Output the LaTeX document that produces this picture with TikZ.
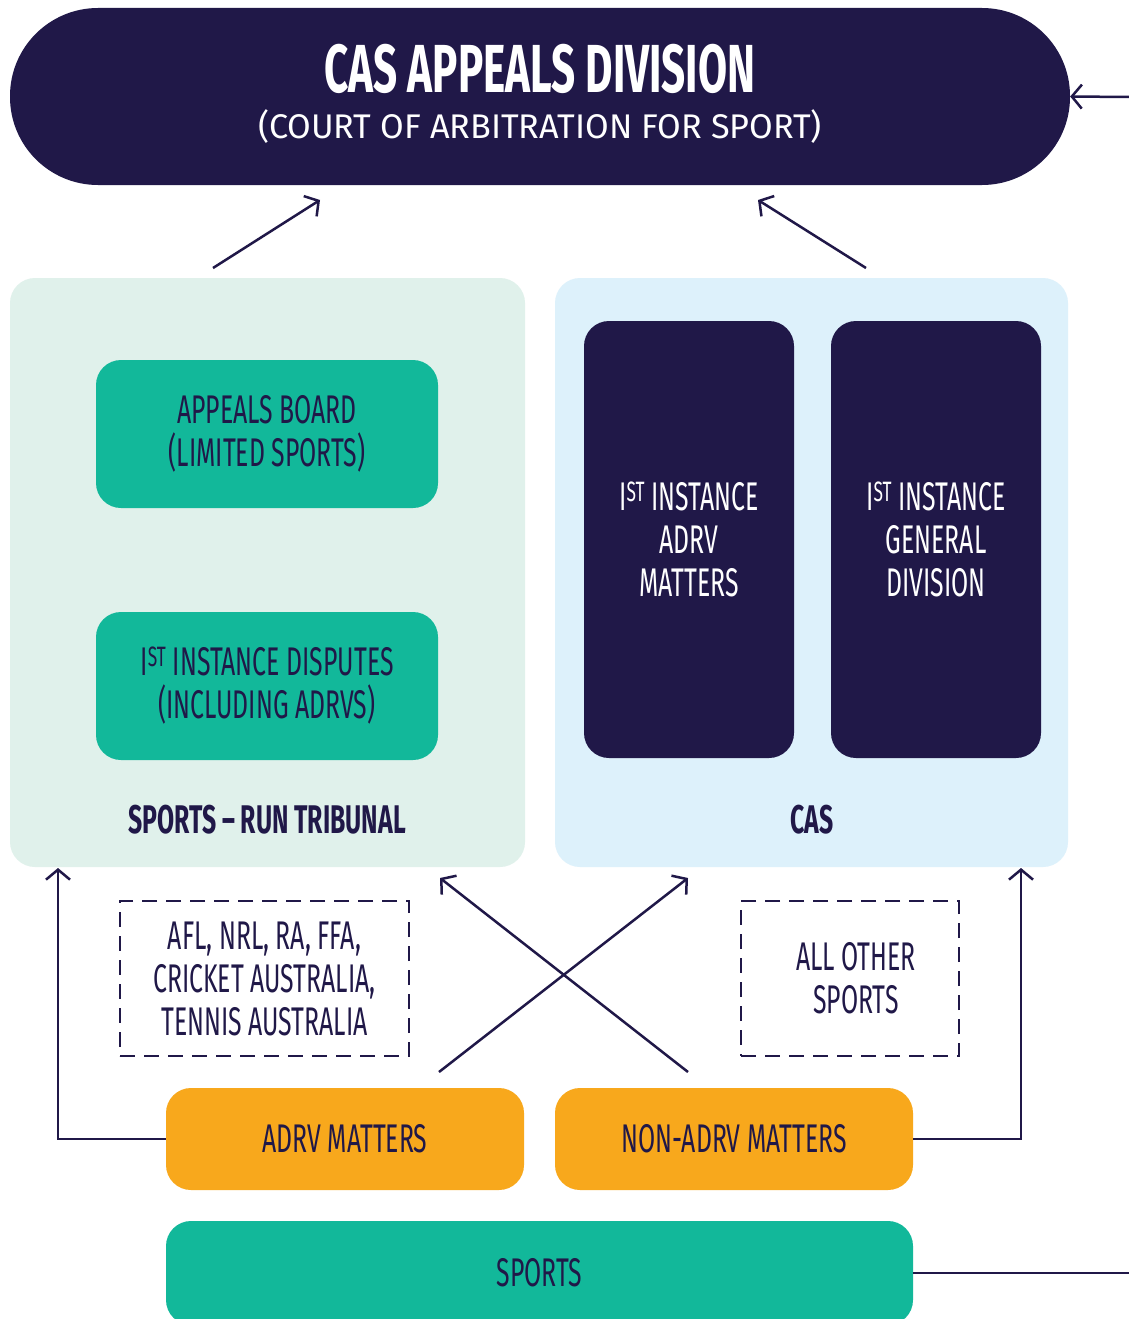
\documentclass[tikz,border=0pt]{standalone}
\usepackage{fontspec}
\setmainfont{Fira Sans}
\newfontfamily\condfont[FakeStretch=0.62,Ligatures=TeX]{Fira Sans}
\usetikzlibrary{arrows.meta}
\definecolor{navy}{HTML}{201848}
\definecolor{teal}{HTML}{12B89A}
\definecolor{orng}{HTML}{F8A81C}
\definecolor{mint}{HTML}{E0F1EB}
\definecolor{sky}{HTML}{DDF1FB}
\tikzset{
  body/.style={font={\condfont\fontsize{40}{43}\selectfont}, align=center, text=navy},
  panel/.style={rounded corners=25pt, inner sep=0pt},
  tealbox/.style={body, fill=teal, rounded corners=25pt, minimum width=342pt, minimum height=148pt, inner sep=0pt},
  darkbox/.style={body, text=white, fill=navy, rounded corners=25pt, minimum width=210pt, minimum height=437pt, inner sep=0pt},
  orangebox/.style={body, fill=orng, rounded corners=25pt, minimum width=358pt, minimum height=102pt, inner sep=0pt},
  dashbox/.style={body, draw=navy, line width=2.5pt, dash pattern=on 15pt off 9pt, inner sep=0pt},
  lbl/.style={font={\condfont\bfseries\fontsize{40}{43}\selectfont}, text=navy, anchor=base},
  conn/.style={draw=navy, line width=2.5pt},
  arr/.style={conn, -{Straight Barb[length=10pt,width=24pt]}},
}
\begin{document}
\begin{tikzpicture}[x=1pt,y=-1pt]
\useasboundingbox (0,0) rectangle (1129,1319);
\fill[white] (0,0) rectangle (1129,1319);

% top pill
\node[fill=navy, rounded corners=88pt, minimum width=1060pt, minimum height=177pt, inner sep=0pt] (cas) at (540,96.5) {};
\node[font={\condfont\bfseries\fontsize{68}{72}\selectfont}, text=white, anchor=base] (title) at (540,93) {CAS APPEALS DIVISION};
\node[font={\fontsize{34.2}{40}\selectfont}, text=white, anchor=base] (subtitle) at (540,139) {(COURT OF ARBITRATION FOR SPORT)};

% panels
\node[panel, fill=mint, minimum width=515pt, minimum height=589pt] (trib) at (267.5,572.5) {};
\node[panel, fill=sky, minimum width=513pt, minimum height=589pt] (caspanel) at (811.5,572.5) {};

\node[tealbox] (appeals) at (267,434) {APPEALS BOARD\\(LIMITED SPORTS)};
\node[tealbox] (disputes) at (267,686) {I\textsuperscript{ST} INSTANCE DISPUTES\\(INCLUDING ADRVS)};
\node[lbl] (triblbl) at (267,833) {SPORTS – RUN TRIBUNAL};

\node[darkbox] (adrvinst) at (689,539.5) {I\textsuperscript{ST} INSTANCE\\ADRV\\MATTERS};
\node[darkbox] (geninst) at (936,539.5) {I\textsuperscript{ST} INSTANCE\\GENERAL\\DIVISION};
\node[lbl] (caslbl) at (812,833) {CAS};

% dashed boxes
\node[dashbox, minimum width=289pt, minimum height=155pt] (major) at (264.5,978.5) {AFL, NRL, RA, FFA,\\CRICKET AUSTRALIA,\\TENNIS AUSTRALIA};
\node[dashbox, minimum width=218pt, minimum height=155pt] (others) at (850,978.5) {\hspace{12pt}ALL OTHER\\\hspace{12pt}SPORTS};

% orange boxes
\node[orangebox] (adrv) at (345,1139) {ADRV MATTERS};
\node[orangebox] (nonadrv) at (734,1139) {NON-ADRV MATTERS};

% sports
\node[body, fill=teal, rounded corners=25pt, minimum width=747pt, minimum height=104pt, inner sep=0pt] (sports) at (539.5,1273) {SPORTS};

% coordinates
\coordinate (rin) at (1129,97);
\coordinate (rout) at (1129,1273);
\coordinate (a1s) at (213,268);
\coordinate (a1e) at (320,200);
\coordinate (a2s) at (866,268);
\coordinate (a2e) at (758,200);
\coordinate (lup) at (58,868);
\coordinate (rup) at (1021,868);
\coordinate (c1s) at (439,1072);
\coordinate (c1e) at (688,878);
\coordinate (c2s) at (688,1072);
\coordinate (c2e) at (440,878);

% connectors
\draw[arr] (rin) -- (cas.east);
\draw[conn] (sports.east) -- (rout);
\draw[arr] (a1s) -- (a1e);
\draw[arr] (a2s) -- (a2e);
\draw[arr] (adrv.west) -| (lup);
\draw[arr] (nonadrv.east) -| (rup);
\draw[arr] (c1s) -- (c1e);
\draw[arr] (c2s) -- (c2e);
\end{tikzpicture}
\end{document}
